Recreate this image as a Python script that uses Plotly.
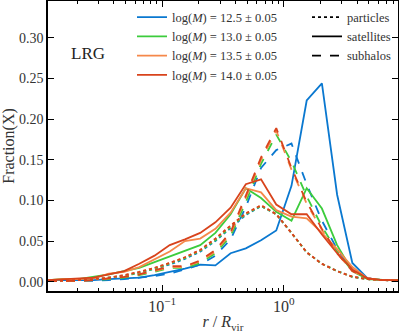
import numpy as np
import plotly.graph_objects as go

# bin centres in r/R_vir (24 log bins, 0.125 dex)
r_bins = np.logspace(-1.9375, 0.9375, 24)

mass_labels = ["12.5", "13.0", "13.5", "14.0"]
colors = ["#0a78d0", "#3ccc3c", "#f5884a", "#d8431c"]

# satellites (solid)
sat_125 = [0.002, 0.002, 0.002, 0.002, 0.003, 0.004, 0.005, 0.008, 0.012, 0.016, 0.021, 0.020,
           0.035, 0.041, 0.051, 0.063, 0.118, 0.223, 0.244, 0.107, 0.023, 0.004, 0.002, 0.002]
sat_130 = [0.002, 0.003, 0.003, 0.006, 0.009, 0.013, 0.017, 0.024, 0.031, 0.038, 0.045, 0.060,
           0.083, 0.115, 0.103, 0.086, 0.075, 0.115, 0.090, 0.045, 0.013, 0.003, 0.002, 0.002]
sat_135 = [0.002, 0.003, 0.003, 0.004, 0.010, 0.012, 0.018, 0.027, 0.037, 0.050, 0.053, 0.065,
           0.085, 0.115, 0.110, 0.088, 0.080, 0.078, 0.060, 0.040, 0.018, 0.004, 0.002, 0.002]
sat_140 = [0.002, 0.003, 0.004, 0.005, 0.009, 0.013, 0.022, 0.032, 0.045, 0.052, 0.060, 0.073,
           0.091, 0.120, 0.126, 0.095, 0.083, 0.083, 0.058, 0.035, 0.015, 0.004, 0.002, 0.002]

# subhalos (dashed)
sub_125 = [0.001, 0.001, 0.001, 0.001, 0.002, 0.003, 0.005, 0.007, 0.010, 0.015, 0.021, 0.032,
           0.052, 0.092, 0.140, 0.162, 0.170, 0.120, 0.075, 0.040, 0.014, 0.004, 0.002, 0.002]
sub_130 = [0.001, 0.001, 0.001, 0.002, 0.003, 0.005, 0.008, 0.012, 0.017, 0.017, 0.023, 0.035,
           0.056, 0.098, 0.145, 0.181, 0.148, 0.105, 0.068, 0.037, 0.013, 0.004, 0.002, 0.002]
sub_135 = [0.001, 0.001, 0.001, 0.002, 0.004, 0.006, 0.009, 0.013, 0.018, 0.018, 0.025, 0.037,
           0.059, 0.103, 0.150, 0.186, 0.138, 0.096, 0.064, 0.035, 0.013, 0.004, 0.002, 0.002]
sub_140 = [0.001, 0.001, 0.001, 0.002, 0.004, 0.006, 0.009, 0.014, 0.019, 0.019, 0.026, 0.039,
           0.061, 0.106, 0.153, 0.189, 0.140, 0.098, 0.065, 0.035, 0.013, 0.004, 0.002, 0.002]

# particles (dotted)
part_125 = [0.001, 0.001, 0.002, 0.003, 0.005, 0.007, 0.011, 0.016, 0.021, 0.028, 0.037, 0.050,
            0.066, 0.082, 0.093, 0.083, 0.060, 0.036, 0.022, 0.013, 0.006, 0.003, 0.002, 0.001]
part_130 = [0.001, 0.001, 0.002, 0.003, 0.005, 0.007, 0.011, 0.016, 0.022, 0.029, 0.038, 0.051,
            0.067, 0.083, 0.093, 0.083, 0.060, 0.036, 0.022, 0.013, 0.006, 0.003, 0.002, 0.001]
part_135 = [0.001, 0.001, 0.002, 0.003, 0.005, 0.008, 0.012, 0.017, 0.023, 0.030, 0.039, 0.053,
            0.069, 0.084, 0.094, 0.083, 0.060, 0.036, 0.022, 0.013, 0.006, 0.003, 0.002, 0.001]
part_140 = [0.001, 0.001, 0.002, 0.003, 0.005, 0.008, 0.012, 0.017, 0.023, 0.030, 0.039, 0.053,
            0.069, 0.084, 0.094, 0.083, 0.060, 0.036, 0.022, 0.013, 0.006, 0.003, 0.002, 0.001]

satellites = [sat_125, sat_130, sat_135, sat_140]
subhalos = [sub_125, sub_130, sub_135, sub_140]
particles = [part_125, part_130, part_135, part_140]

x_tickvals = [0.1, 1]
x_ticktext = ["10<sup>−1</sup>", "10<sup>0</sup>"]

FONT = "Liberation Serif"

fig = go.Figure()

for i in range(4):
    for ys, dash in [(particles[i], "dot"), (satellites[i], "solid"), (subhalos[i], "dash")]:
        fig.add_trace(go.Scatter(x=r_bins, y=ys, mode="lines", showlegend=False,
                                 line=dict(color=colors[i], width=1.8, dash=dash)))

# legend entries: masses
for i in range(4):
    fig.add_trace(go.Scatter(x=[None], y=[None], mode="lines", legend="legend",
                             name="log(<i>M</i>) = %s ± 0.05" % mass_labels[i],
                             line=dict(color=colors[i], width=1.8)))

# legend entries: line styles
for name, dash in [("particles", "dot"), ("satellites", "solid"), ("subhalos", "dash")]:
    fig.add_trace(go.Scatter(x=[None], y=[None], mode="lines", legend="legend2", name=name,
                             line=dict(color="black", width=1.8, dash=dash)))

fig.add_annotation(text="LRG", x=0.06, y=0.82, xref="paper", yref="paper", xanchor="left",
                   yanchor="middle", showarrow=False, font=dict(family=FONT, size=17, color="#222"))

fig.update_layout(
    width=399, height=333,
    margin=dict(l=48, r=1, t=1, b=42),
    paper_bgcolor="white", plot_bgcolor="white",
    font=dict(family=FONT, size=13, color="#333"),
    showlegend=True,
    legend=dict(x=0.24, y=0.995, xanchor="left", yanchor="top", bgcolor="rgba(0,0,0,0)",
                font=dict(family=FONT, size=12.5, color="#333"), itemwidth=30, tracegroupgap=0),
    legend2=dict(x=0.74, y=0.995, xanchor="left", yanchor="top", bgcolor="rgba(0,0,0,0)",
                 font=dict(family=FONT, size=12.5, color="#333"), itemwidth=30, tracegroupgap=0),
)

fig.update_xaxes(
    type="log", range=[-1.9375, 0.9375], automargin=False,
    showline=True, linecolor="black", linewidth=1.5, mirror="allticks",
    ticks="inside", ticklen=6, tickwidth=1, tickcolor="black",
    tickvals=x_tickvals, ticktext=x_ticktext, showgrid=False, zeroline=False,
    tickfont=dict(family=FONT, size=16),
    minor=dict(ticks="inside", ticklen=3, tickcolor="black", dtick="D1", showgrid=False),
    title=dict(text="<i>r</i> / <i>R</i><sub>vir</sub>", font=dict(family=FONT, size=16), standoff=2),
)

fig.update_yaxes(
    range=[-0.0115, 0.3455], automargin=False,
    showline=True, linecolor="black", linewidth=1.5, mirror="allticks",
    ticks="inside", ticklen=6, tickwidth=1, tickcolor="black",
    tick0=0, dtick=0.05, tickformat=".2f", showgrid=False, zeroline=False,
    tickfont=dict(family=FONT, size=14),
    title=dict(text="Fraction(X)", font=dict(family=FONT, size=16), standoff=4),
)

fig.write_html("out.html", config={"displayModeBar": False},
               post_script="document.body.style.margin='0';")
